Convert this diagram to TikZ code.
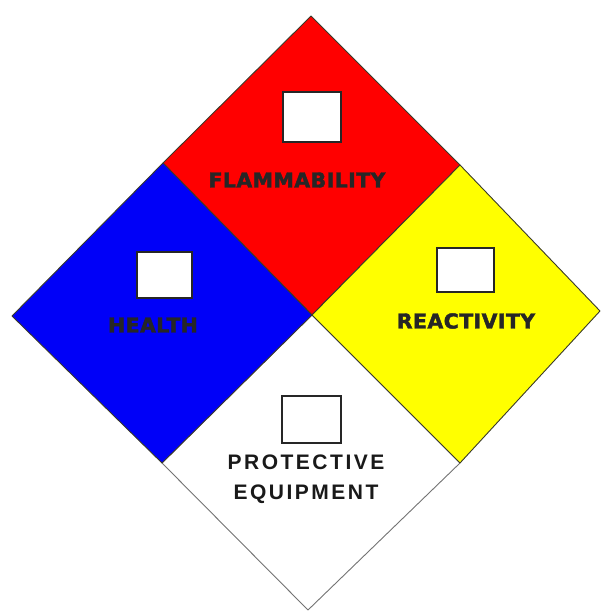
\documentclass[tikz,border=0pt]{standalone}
\usepackage{fontspec}
\usepackage{tikz}
\usetikzlibrary{positioning, calc}
\newfontfamily\heavyfont[LetterSpace=2, FakeBold=2]{DejaVu Sans}
\newfontfamily\gearfont[LetterSpace=12]{Liberation Sans}
\definecolor{nfpared}{HTML}{FF0000}
\definecolor{nfpablue}{HTML}{0000F8}
\definecolor{nfpayellow}{HTML}{FFFF00}
\definecolor{nfpaedge}{HTML}{3A3A2A}

\begin{document}
\begin{tikzpicture}[
    x=1pt, y=-1pt,
    quadrant/.style={draw=nfpaedge, line width=0.9pt, line join=round},
    ratingbox/.style={rectangle, draw=black!85, fill=white, line width=1.3pt, inner sep=0pt},
    hazard/.style={font=\heavyfont\bfseries\fontsize{20.5}{22}\selectfont, text=black!85, inner sep=0pt},
    gear/.style={font=\gearfont\bfseries\fontsize{21}{30}\selectfont, text=black!90, inner sep=0pt, align=center}
]
\useasboundingbox (0,0) rectangle (600,612);

% corners of the diamond
\coordinate (top) at (311,16);
\coordinate (left) at (12,316);
\coordinate (right) at (600,311);
\coordinate (bottom) at (308,610);
\coordinate (mid) at (312,315);
\coordinate (tl) at (163,163);
\coordinate (tr) at (460,165);
\coordinate (bl) at (162,463);
\coordinate (br) at (460,463);

% four quadrants
\draw[quadrant, fill=white, draw=black!55] (mid) -- (br) -- (bottom) -- (bl) -- cycle;
\draw[quadrant, fill=nfpared] (top) -- (tr) -- (mid) -- (tl) -- cycle;
\draw[quadrant, fill=nfpablue] (tl) -- (mid) -- (bl) -- (left) -- cycle;
\draw[quadrant, fill=nfpayellow] (tr) -- (right) -- (br) -- (mid) -- cycle;

% rating boxes
\node[ratingbox, minimum width=58pt, minimum height=50pt] (flambox) at (312,117) {};
\node[ratingbox, minimum width=55pt, minimum height=46pt] (healthbox) at (164.5,275) {};
\node[ratingbox, minimum width=57pt, minimum height=44pt] (reactbox) at (465.5,270) {};
\node[ratingbox, minimum width=59pt, minimum height=47pt] (gearbox) at (311.5,419.5) {};

% labels
\node[hazard] (flamlabel) at (297,180) {FLAMMABILITY};
\node[hazard] (healthlabel) at (153,325) {HEALTH};
\node[hazard] (reactlabel) at (466,321) {REACTIVITY};
\node[gear] (gearlabel) at (306,479) {PROTECTIVE\\EQUIPMENT};

\end{tikzpicture}
\end{document}
